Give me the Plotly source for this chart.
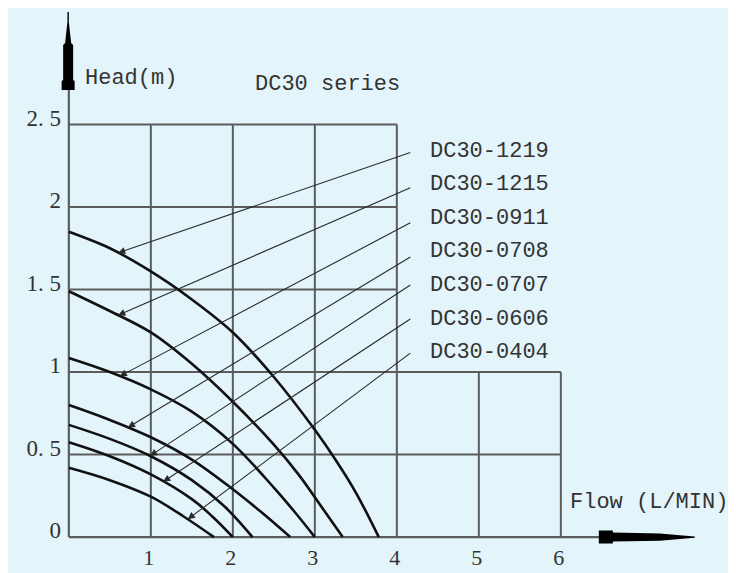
import numpy as np
import plotly.graph_objects as go

# ---------------- data ----------------
models = ["DC30-1219", "DC30-1215", "DC30-0911", "DC30-0708",
          "DC30-0707", "DC30-0606", "DC30-0404"]

flow_1219 = [0, 0.5, 1.0, 1.5, 2.0, 2.5, 3.0, 3.25, 3.5, 3.78]
head_1219 = [1.85, 1.75, 1.61, 1.44, 1.24, 0.97, 0.65, 0.47, 0.27, 0]

flow_1215 = [0, 0.5, 1.0, 1.5, 2.0, 2.5, 2.8, 3.1, 3.34]
head_1215 = [1.49, 1.37, 1.24, 1.05, 0.82, 0.56, 0.38, 0.17, 0]

flow_0911 = [0, 0.5, 1.0, 1.5, 2.0, 2.5, 2.75, 3.0]
head_0911 = [1.085, 1.0, 0.895, 0.76, 0.565, 0.30, 0.155, 0]

flow_0708 = [0, 0.5, 1.0, 1.5, 2.0, 2.35, 2.70]
head_0708 = [0.80, 0.71, 0.605, 0.47, 0.29, 0.15, 0]

flow_0707 = [0, 0.5, 1.0, 1.5, 1.9, 2.24]
head_0707 = [0.68, 0.595, 0.49, 0.345, 0.185, 0]

flow_0606 = [0, 0.5, 1.0, 1.5, 1.75, 2.0]
head_0606 = [0.575, 0.49, 0.38, 0.23, 0.125, 0]

flow_0404 = [0, 0.5, 1.0, 1.4, 1.77]
head_0404 = [0.42, 0.345, 0.245, 0.125, 0]

x_tick_vals = [1, 2, 3, 4, 5, 6]
x_tick_text = ["1", "2", "3", "4", "5", "6"]
y_tick_vals = [0, 0.5, 1, 1.5, 2, 2.5]
y_tick_text = ["0", "0. 5", "1", "1. 5", "2", "2. 5"]

flows = [flow_1219, flow_1215, flow_0911, flow_0708, flow_0707, flow_0606, flow_0404]
heads = [head_1219, head_1215, head_0911, head_0708, head_0707, head_0606, head_0404]

# ---------------- layout helpers (reference pixel -> data) ----------------
PX0, PY0, SX, SY = 69.0, 537.0, 82.0, 165.0
def dx(px):
    return (px - PX0) / SX
def dy(py):
    return (PY0 - py) / SY

BG = "#E3F4FA"
GRID = "#5c5c5c"
INK = "#111111"
TXT = "#333333"
MONO = "Liberation Mono, Courier New, monospace"
SERIF = "Liberation Serif, DejaVu Serif, serif"

fig = go.Figure()

for name, q, h in zip(models, flows, heads):
    fig.add_trace(go.Scatter(x=q, y=h, mode="lines", name=name,
                             line=dict(color=INK, width=2.6, shape="spline", smoothing=1.0),
                             hoverinfo="skip"))

shapes = []
def seg(x0, y0, x1, y1, color=GRID, width=2):
    shapes.append(dict(type="line", xref="x", yref="y", x0=x0, y0=y0, x1=x1, y1=y1,
                       line=dict(color=color, width=width), layer="below"))

# grid (partial, as in the reference)
for v in [1, 2, 3, 4]:
    seg(v, 0, v, 2.5)
for v in [5, 6]:
    seg(v, 0, v, 1.0)
for v in [1.5, 2.0, 2.5]:
    seg(0, v, 4, v)
for v in [0.5, 1.0]:
    seg(0, v, 6, v)
# axes
seg(0, 0, dx(600), 0, width=2.2)
seg(0, 0, 0, dy(89), width=2.2)

def poly(pts):
    p = "M " + " L ".join(f"{dx(a):.4f},{dy(b):.4f}" for a, b in pts) + " Z"
    shapes.append(dict(type="path", xref="x", yref="y", path=p,
                       fillcolor="#000000", line=dict(width=0), layer="above"))

# arrow spike on the vertical axis
poly([(67.6, 12), (69.0, 12), (69.0, 22), (71.3, 43), (73.3, 45), (73.3, 80),
      (74.8, 81), (74.8, 90), (61.8, 90), (61.8, 81), (63.3, 80), (63.3, 45),
      (65.3, 43), (67.6, 22)])
# arrow spike on the horizontal axis
poly([(599, 530.5), (613, 530.5), (613, 532.5), (660, 533.3), (683, 535.4),
      (695, 536.4), (695, 537.6), (683, 538.6), (660, 540.7), (613, 541.5),
      (613, 543.5), (599, 543.5)])

annotations = []
# model labels and leader lines
label_cy = [151, 184, 218, 251, 285, 319, 352]
leader_py = [152, 187, 222, 256, 284, 318, 352]
tip_x = [0.60, 0.60, 0.62, 0.72, 0.99, 1.15, 1.45]
for name, q, h, cy, ly, tx in zip(models, flows, heads, label_cy, leader_py, tip_x):
    annotations.append(dict(x=dx(428), y=dy(cy), xref="x", yref="y", text=name,
                            showarrow=False, xanchor="left", yanchor="middle",
                            font=dict(family=MONO, size=22, color=TXT)))
    ty = float(np.interp(tx, q, h))
    annotations.append(dict(x=tx, y=ty, xref="x", yref="y", ax=dx(412), ay=dy(ly),
                            axref="x", ayref="y", text="", showarrow=True,
                            arrowhead=2, arrowsize=1.3, arrowwidth=1.1,
                            arrowcolor="#2a2a2a", standoff=0))

annotations.append(dict(x=dx(83), y=dy(78), xref="x", yref="y", text="Head(m)",
                        showarrow=False, xanchor="left", yanchor="middle",
                        font=dict(family=MONO, size=22, color=TXT)))
annotations.append(dict(x=dx(253), y=dy(84), xref="x", yref="y", text="DC30 series",
                        showarrow=False, xanchor="left", yanchor="middle",
                        font=dict(family=MONO, size=22, color=TXT)))
annotations.append(dict(x=dx(568), y=dy(502), xref="x", yref="y", text="Flow (L/MIN)",
                        showarrow=False, xanchor="left", yanchor="middle",
                        font=dict(family=MONO, size=22, color=TXT)))

# the page body adds an 8 px offset, so the figure is 8 px smaller and shifted
fig.update_layout(
    width=728, height=565,
    margin=dict(l=51, r=21, t=1, b=26, autoexpand=False),
    paper_bgcolor=BG, plot_bgcolor=BG,
    showlegend=False,
    shapes=shapes, annotations=annotations,
    xaxis=dict(range=[-0.12, 7.88], showgrid=False, zeroline=False, showline=False,
               automargin=False,
               tickmode="array", tickvals=x_tick_vals, ticktext=x_tick_text,
               ticks="", ticklabelshift=-2, ticklabelstandoff=-5,
               tickfont=dict(family=SERIF, size=22, color=TXT)),
    yaxis=dict(range=[-0.06, 3.2], showgrid=False, zeroline=False, showline=False,
               automargin=False,
               tickmode="array", tickvals=y_tick_vals, ticktext=y_tick_text,
               ticks="", ticklabelshift=-7, ticklabelstandoff=-3,
               tickfont=dict(family=SERIF, size=23, color=TXT)),
)

fig.write_html("out.html")
